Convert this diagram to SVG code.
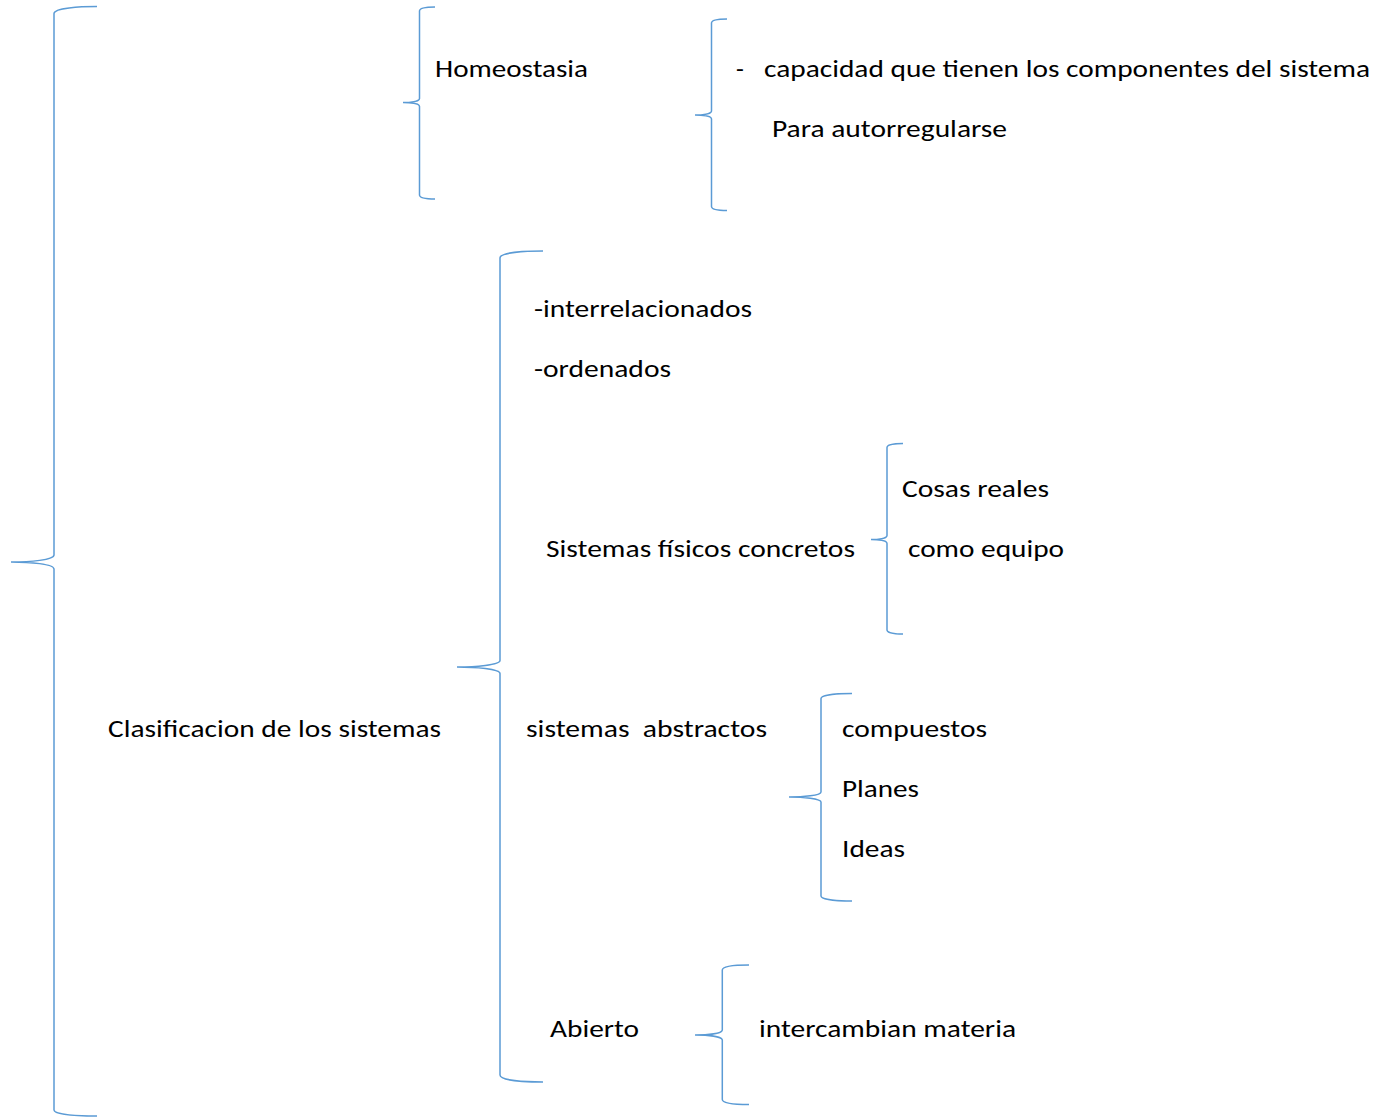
<svg xmlns="http://www.w3.org/2000/svg" width="1378" height="1117" viewBox="0 0 1378 1117">
<style>
.t{font-family:Carlito,"Open Sans","Liberation Sans",sans-serif;font-size:25.5px;fill:#000}
.b{fill:none;stroke:#5B9BD5;stroke-width:1.5}
</style>
<rect width="1378" height="1117" fill="#fff"/>
<g id="connectors">
<path class="b" d="M97 6.5 C80 6.5 54 8 54 13.5 L54 555 C54 560 30 562 11 562 C30 562 54 564 54 569 L54 1110 C54 1115 80 1116 97 1116"/>
<path class="b" d="M435 7 C428 7 419.5 8 419.5 11 L419.5 98.5 C419.5 101.5 410 102.5 403 102.5 C410 102.5 419.5 103.5 419.5 106.5 L419.5 195 C419.5 198 428 199 435 199"/>
<path class="b" d="M727 19 C720 19 711.5 20 711.5 23 L711.5 111 C711.5 114 702 115 695 115 C702 115 711.5 116 711.5 119 L711.5 206.5 C711.5 209.5 720 210.5 727 210.5"/>
<path class="b" d="M543 251 C525 251 500 252.5 500 258 L500 660.5 C500 665 475 667 457 667 C475 667 500 669 500 673.5 L500 1075 C500 1080.5 525 1082 543 1082"/>
<path class="b" d="M903 443.5 C896 443.5 887 444.5 887 447.5 L887 535.5 C887 538.5 878 539.5 871 539.5 C878 539.5 887 540.5 887 543.5 L887 630 C887 633 896 634 903 634"/>
<path class="b" d="M852 693.5 C840 693.5 821 694.5 821 698.5 L821 792 C821 795.5 803 797 789 797 C803 797 821 798.5 821 802 L821 896 C821 900 840 901 852 901"/>
<path class="b" d="M749 965 C737 965 722.3 966 722.3 970 L722.3 1030 C722.3 1033.5 708 1035 695 1035 C708 1035 722.3 1036.5 722.3 1040 L722.3 1099.5 C722.3 1103.5 737 1104.5 749 1104.5"/>
</g>
<g id="n-clasificacion"><text class="t" x="108" y="737" textLength="333" lengthAdjust="spacingAndGlyphs">Clasificacion de los sistemas</text></g>
<g id="n-homeostasia"><text class="t" x="435" y="77" textLength="153" lengthAdjust="spacingAndGlyphs">Homeostasia</text></g>
<g id="n-capacidad">
<text class="t" x="736" y="77">-</text>
<text class="t" x="764" y="77" textLength="606" lengthAdjust="spacingAndGlyphs">capacidad que tienen los componentes del sistema</text>
<text class="t" x="772" y="137" textLength="235" lengthAdjust="spacingAndGlyphs">Para autorregularse</text>
</g>
<g id="n-interrelacionados"><text class="t" x="534" y="317" textLength="218" lengthAdjust="spacingAndGlyphs">-interrelacionados</text></g>
<g id="n-ordenados"><text class="t" x="534" y="377" textLength="137" lengthAdjust="spacingAndGlyphs">-ordenados</text></g>
<g id="n-fisicos"><text class="t" x="546" y="557" textLength="309" lengthAdjust="spacingAndGlyphs">Sistemas físicos concretos</text></g>
<g id="n-cosas">
<text class="t" x="902" y="497" textLength="147" lengthAdjust="spacingAndGlyphs">Cosas reales</text>
<text class="t" x="908" y="557" textLength="156" lengthAdjust="spacingAndGlyphs">como equipo</text>
</g>
<g id="n-abstractos"><text class="t" x="526" y="737" textLength="241" lengthAdjust="spacingAndGlyphs" xml:space="preserve">sistemas  abstractos</text></g>
<g id="n-compuestos">
<text class="t" x="842" y="737" textLength="145" lengthAdjust="spacingAndGlyphs">compuestos</text>
<text class="t" x="842" y="797" textLength="77" lengthAdjust="spacingAndGlyphs">Planes</text>
<text class="t" x="842" y="857" textLength="63" lengthAdjust="spacingAndGlyphs">Ideas</text>
</g>
<g id="n-abierto"><text class="t" x="550" y="1037" textLength="89" lengthAdjust="spacingAndGlyphs">Abierto</text></g>
<g id="n-intercambian"><text class="t" x="759" y="1037" textLength="257" lengthAdjust="spacingAndGlyphs">intercambian materia</text></g>
</svg>
